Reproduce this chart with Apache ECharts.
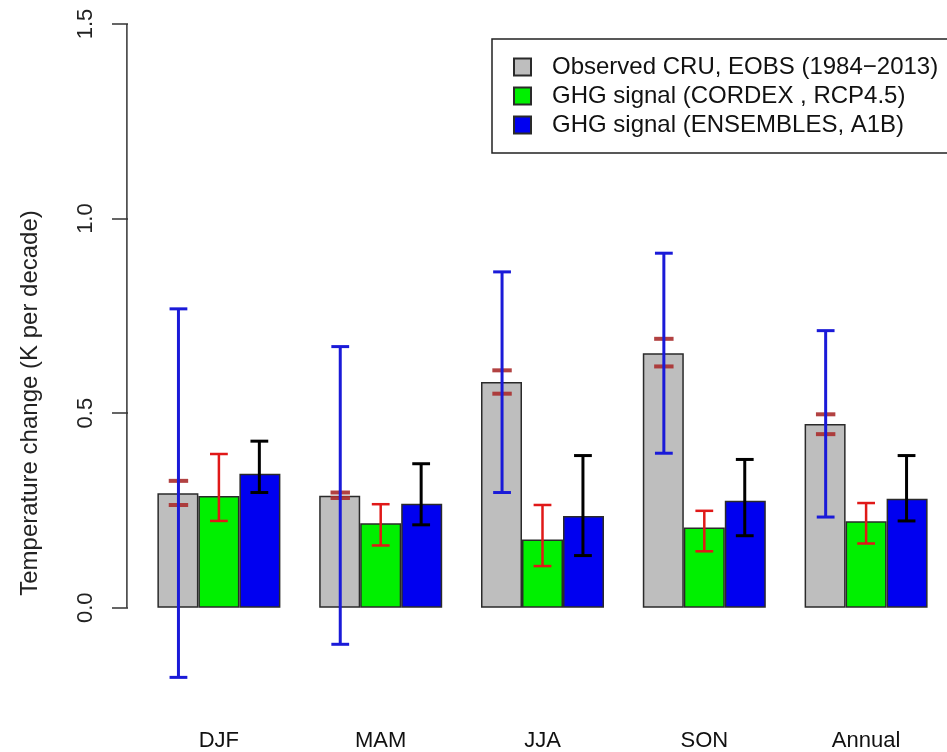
<!DOCTYPE html>
<html>
<head>
<meta charset="utf-8">
<script src="https://cdn.jsdelivr.net/npm/echarts@6.0.0/dist/echarts.min.js"></script>
<style>
  html, body { margin: 0; padding: 0; background: #ffffff; }
  #chart { width: 947px; height: 752px; }
</style>
</head>
<body>
<div id="chart"></div>
<script>
// Seasons on the x axis
const seasons = ['DJF', 'MAM', 'JJA', 'SON', 'Annual'];

// Bar heights (K per decade)
const observed  = [0.294, 0.288, 0.580, 0.654, 0.472];
const cordex    = [0.287, 0.217, 0.175, 0.206, 0.222];
const ensembles = [0.344, 0.267, 0.236, 0.275, 0.280];

// Uncertainty range of the observed trend
const observedLow  = [-0.179, -0.094, 0.296, 0.397, 0.233];
const observedHigh = [0.768, 0.671, 0.863, 0.911, 0.712];

// CRU and EOBS individual trends
const cruEobsLow  = [0.264, 0.282, 0.550, 0.620, 0.446];
const cruEobsHigh = [0.326, 0.296, 0.610, 0.691, 0.497];

// Model spread
const cordexLow  = [0.223, 0.160, 0.107, 0.145, 0.165];
const cordexHigh = [0.395, 0.266, 0.264, 0.249, 0.269];
const ensLow     = [0.296, 0.213, 0.134, 0.185, 0.223];
const ensHigh    = [0.428, 0.370, 0.391, 0.381, 0.391];

// Y axis ticks
const yTicks = [0.0, 0.5, 1.0, 1.5];

const seriesNames = [
  'Observed CRU, EOBS (1984\u22122013)',
  'GHG signal (CORDEX , RCP4.5)',
  'GHG signal (ENSEMBLES, A1B)'
];

const FONT = '"Liberation Sans", Arial, Helvetica, sans-serif';

function rangeData(low, high) {
  return seasons.map((s, i) => [i, low[i], high[i]]);
}

// Error bar drawn at bar slot (-1, 0, +1) inside a category
function errorBar(color, width, slot) {
  return function (params, api) {
    const idx = api.value(0);
    const band = api.size([1, 0])[0];
    const bw = band * 0.25;
    const lo = api.coord([idx, api.value(1)]);
    const hi = api.coord([idx, api.value(2)]);
    const x = lo[0] + slot * bw;
    const cap = bw * 0.22;
    const style = { stroke: color, lineWidth: width };
    return {
      type: 'group',
      children: [
        { type: 'line', shape: { x1: x, y1: lo[1], x2: x, y2: hi[1] }, style },
        { type: 'line', shape: { x1: x - cap, y1: lo[1], x2: x + cap, y2: lo[1] }, style },
        { type: 'line', shape: { x1: x - cap, y1: hi[1], x2: x + cap, y2: hi[1] }, style }
      ]
    };
  };
}

// Two short dashes marking the CRU and EOBS values
function pairMarks(color, width, slot) {
  return function (params, api) {
    const idx = api.value(0);
    const band = api.size([1, 0])[0];
    const bw = band * 0.25;
    const a = api.coord([idx, api.value(1)]);
    const b = api.coord([idx, api.value(2)]);
    const x = a[0] + slot * bw;
    const half = bw * 0.24;
    const style = { stroke: color, lineWidth: width };
    return {
      type: 'group',
      children: [
        { type: 'line', shape: { x1: x - half, y1: a[1], x2: x + half, y2: a[1] }, style },
        { type: 'line', shape: { x1: x - half, y1: b[1], x2: x + half, y2: b[1] }, style }
      ]
    };
  };
}

const chart = echarts.init(document.getElementById('chart'), null, { renderer: 'canvas' });

const barBorder = { borderColor: '#2a2a2a', borderWidth: 1.5 };

chart.setOption({
  animation: false,
  backgroundColor: '#ffffff',
  textStyle: { fontFamily: FONT },
  grid: { left: 138, top: 24, width: 820, height: 683.7 },
  legend: {
    orient: 'vertical',
    left: 492,
    top: 39,
    icon: 'rect',
    itemWidth: 17,
    itemHeight: 17,
    itemGap: 5,
    padding: [16, 40, 16, 21],
    borderColor: '#222222',
    borderWidth: 1.5,
    textStyle: { fontSize: 24, color: '#111111', fontFamily: FONT, padding: [0, 0, 0, 16] },
    data: seriesNames
  },
  xAxis: {
    type: 'category',
    data: seasons,
    axisLine: { show: false },
    axisTick: { show: false },
    axisLabel: { fontSize: 22, color: '#111111', margin: 25, fontFamily: FONT }
  },
  yAxis: {
    type: 'value',
    min: -0.25,
    max: 1.5,
    offset: 10,
    splitLine: { show: false },
    axisLine: { show: false },
    axisTick: { show: true, customValues: yTicks, length: 16, lineStyle: { color: '#333333', width: 1.5 } },
    axisLabel: {
      customValues: yTicks,
      rotate: 90,
      fontSize: 22,
      color: '#222222',
      margin: 31,
      fontFamily: FONT,
      formatter: v => v.toFixed(1)
    }
  },
  series: [
    { name: seriesNames[0], type: 'bar', data: observed, barWidth: 41, barGap: '0%',
      itemStyle: Object.assign({ color: '#bebebe' }, barBorder) },
    { name: seriesNames[1], type: 'bar', data: cordex, barWidth: 41, barGap: '0%',
      itemStyle: Object.assign({ color: '#00f000' }, barBorder) },
    { name: seriesNames[2], type: 'bar', data: ensembles, barWidth: 41, barGap: '0%',
      itemStyle: Object.assign({ color: '#0000f0' }, barBorder) },
    { type: 'custom', renderItem: pairMarks('rgba(170,45,45,0.9)', 4, -1),
      data: rangeData(cruEobsLow, cruEobsHigh), z: 3 },
    { type: 'custom', renderItem: errorBar('#1a1ad8', 3, -1),
      data: rangeData(observedLow, observedHigh), z: 4 },
    { type: 'custom', renderItem: errorBar('#e01818', 2.5, 0),
      data: rangeData(cordexLow, cordexHigh), z: 4 },
    { type: 'custom', renderItem: errorBar('#000000', 3, 1),
      data: rangeData(ensLow, ensHigh), z: 4 }
  ]
});

// Axis line spanning the tick range, and the axis title
const yBottom = chart.convertToPixel({ yAxisIndex: 0 }, yTicks[0]);
const yTop = chart.convertToPixel({ yAxisIndex: 0 }, yTicks[yTicks.length - 1]);
const axisX = chart.convertToPixel({ xAxisIndex: 0 }, 0) - 82 - 10;
chart.setOption({
  graphic: [
    { type: 'line', shape: { x1: axisX, y1: yBottom, x2: axisX, y2: yTop },
      style: { stroke: '#333333', lineWidth: 1.5 } },
    { type: 'text', x: 30, y: 403, rotation: Math.PI / 2,
      style: { text: 'Temperature change (K per decade)', fontSize: 24, fill: '#222222',
               fontFamily: FONT, align: 'center', verticalAlign: 'middle' } }
  ]
});
</script>
</body>
</html>
